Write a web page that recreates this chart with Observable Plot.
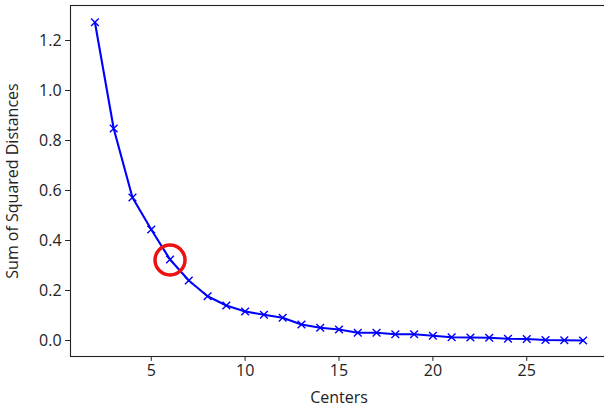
<!DOCTYPE html>
<html>
<head>
<meta charset="utf-8">
<script src="https://cdn.jsdelivr.net/npm/d3@7"></script>
<script src="https://cdn.jsdelivr.net/npm/@observablehq/plot@0.6"></script>
<style>
  html, body { margin: 0; padding: 0; background: #fff; overflow: hidden; }
  #chart { width: 604px; height: 408px; overflow: hidden; }
  #chart svg { max-width: none !important; }
</style>
</head>
<body>
<div id="chart"></div>
<script>
const centers = [2,3,4,5,6,7,8,9,10,11,12,13,14,15,16,17,18,19,20,21,22,23,24,25,26,27,28];
const sse = [1.273,0.848,0.572,0.444,0.324,0.240,0.177,0.140,0.116,0.103,0.091,0.064,0.051,0.044,0.031,0.031,0.025,0.025,0.019,0.013,0.012,0.011,0.007,0.006,0.002,0.001,0.000];
const xTicks = [5,10,15,20,25];
const yTicks = [0,0.2,0.4,0.6,0.8,1.0,1.2];
const elbowX = [6];
const elbowY = [0.322];

const data = centers.map((c, i) => ({c, v: sse[i]}));
const elbow = elbowX.map((c, i) => ({c, v: elbowY[i]}));

const chart = Plot.plot({
  width: 610,
  height: 408,
  marginLeft: 70,
  marginRight: 3,
  marginTop: 5,
  marginBottom: 52,
  style: {fontFamily: "'Open Sans'", fontSize: "16px", color: "#222", background: "#fff", maxWidth: "none"},
  x: {domain: [0.7, 29.3], ticks: xTicks, tickSize: 4.9, tickPadding: 3, label: "Centers", labelAnchor: "center", labelArrow: "none", labelOffset: 46},
  y: {domain: [-0.064, 1.34], ticks: yTicks, tickFormat: d => d.toFixed(1), tickSize: 4.9, tickPadding: 4, label: "Sum of Squared Distances", labelAnchor: "center", labelArrow: "none", labelOffset: 64},
  marks: [
    Plot.frame({stroke: "#222", strokeWidth: 1.1}),
    Plot.line(data, {x: "c", y: "v", stroke: "#0000ff", strokeWidth: 2.1}),
    Plot.dot(data, {x: "c", y: "v", symbol: "times", r: 3.6, stroke: "#0000ff", strokeWidth: 1.4}),
    Plot.dot(elbow, {x: "c", y: "v", r: 15, stroke: "#ee1111", strokeWidth: 3.5, fill: "none"})
  ]
});
document.getElementById("chart").appendChild(chart);
</script>
</body>
</html>
